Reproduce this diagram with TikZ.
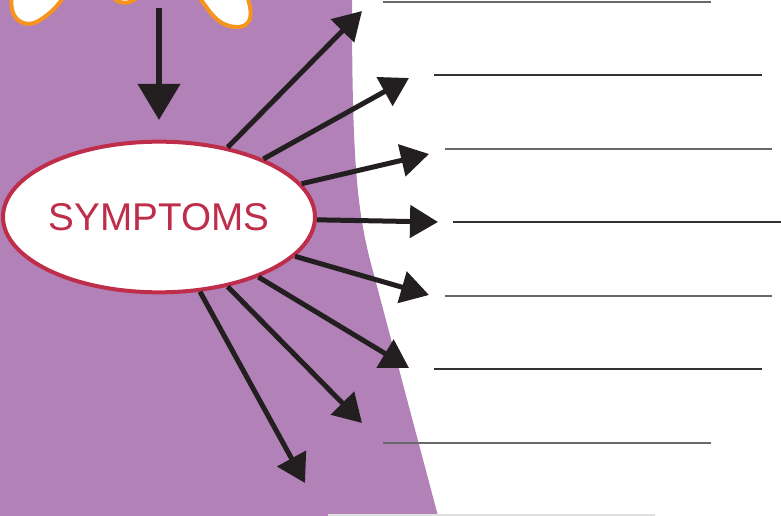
\documentclass[tikz,border=0pt]{standalone}
\usepackage{fontspec}
\setmainfont{Liberation Sans}
\usetikzlibrary{arrows.meta,shapes.geometric}

\definecolor{bgpurple}{RGB}{178,129,183}
\definecolor{symred}{RGB}{190,45,74}
\definecolor{petalorange}{RGB}{247,148,29}
\definecolor{arrowblack}{RGB}{35,31,32}
\definecolor{blankgray}{RGB}{105,105,105}
\definecolor{blankdark}{RGB}{50,50,50}

\begin{document}
\begin{tikzpicture}[x=0.75pt,y=-0.75pt,
  arr/.style={draw=arrowblack,line width=3.75pt,-{Triangle[length=21pt,width=24pt]}},
  downarr/.style={arr,line width=4.5pt,-{Triangle[length=27pt,width=31pt]}},
  blank/.style={draw=blankgray,line width=1pt},
  petal/.style={draw=petalorange,fill=white,line width=3pt}]
\useasboundingbox (0,0) rectangle (781,516);

% background
\fill[bgpurple] (0,0) -- (352,0) .. controls (352,150) and (356,205) .. (370,260)
  -- (438,516) -- (0,516) -- cycle;

% answer lines
\draw[blank] (383,2) -- (711,2);
\draw[blank,draw=blankdark] (434,75) -- (762,75);
\draw[blank] (445,149) -- (772,149);
\draw[blank,draw=blankdark] (453,222) -- (781,222);
\draw[blank] (445,296) -- (772,296);
\draw[blank,draw=blankdark] (434,369) -- (762,369);
\draw[blank] (383,443) -- (711,443);
\draw[blank,draw=black!12] (328,515) -- (655,515);

% flower
\begin{scope}
\clip (0,0) rectangle (781,516);
\draw[petal] (12,-4) .. controls (8,20) and (25,30) .. (40,20)
  .. controls (50,14) and (58,6) .. (64,-4);
\draw[petal] (112,-4) .. controls (118,5) and (132,5) .. (138,-4);
\draw[petal] (198,-4) .. controls (208,8) and (215,25) .. (235,27)
  .. controls (255,28) and (252,10) .. (247,-4);
\end{scope}

\node[ellipse,draw=symred,line width=3pt,fill=white,inner sep=0pt,
  minimum width=232pt,minimum height=113pt,text=symred]
  (sym) at (159,217) {\fontsize{29}{29}\selectfont SYMPTOMS};

\coordinate (dtop) at (159,8);
\coordinate (dtip) at (159,120);
\coordinate (t1) at (362,11);
\coordinate (t2) at (409,78);
\coordinate (t3) at (429,154);
\coordinate (t4) at (438,222);
\coordinate (t5) at (429,295);
\coordinate (t6) at (409,368);
\coordinate (t7) at (362,423);
\coordinate (t8) at (305,483);

\draw[downarr] (dtop) -- (dtip);
\foreach \t in {t1,t2,t3,t4,t5,t6,t7,t8}
  \draw[arr] (sym) -- (\t);
\end{tikzpicture}
\end{document}
